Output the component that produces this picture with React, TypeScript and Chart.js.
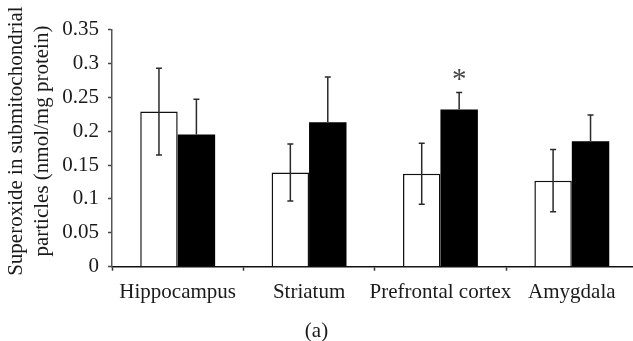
import { useEffect, useRef } from 'react';
import { Chart, registerables } from 'chart.js';

Chart.register(...registerables);

const categories = ['Hippocampus', 'Striatum', 'Prefrontal cortex', 'Amygdala'];
const controlValues = [0.229, 0.139, 0.137, 0.127];
const controlErrors = [0.064, 0.042, 0.045, 0.046];
const treatedValues = [0.195, 0.213, 0.232, 0.185];
const treatedErrors = [0.052, 0.067, 0.025, 0.039];
const treatedSignificant = [false, false, true, false];
const yTitleLines = ['Superoxide in submitochondrial', 'particles (nmol/mg protein)'];
const caption = '(a)';

const FONT = "'Liberation Serif', 'Times New Roman', serif";
const TEXT = '#1a1a1a';

const errorBarPlugin = {
  id: 'errorBars',
  afterDatasetsDraw(chart: any) {
    const ctx = chart.ctx;
    const y = chart.scales.y;
    const sets = [
      { values: controlValues, errors: controlErrors, full: true },
      { values: treatedValues, errors: treatedErrors, full: false },
    ];
    ctx.save();
    ctx.strokeStyle = '#2a2a2a';
    ctx.lineWidth = 1.5;
    sets.forEach((s, di) => {
      const meta = chart.getDatasetMeta(di);
      meta.data.forEach((el: any, i: number) => {
        const x = el.x;
        const top = y.getPixelForValue(s.values[i] + s.errors[i]);
        const bottom = s.full ? y.getPixelForValue(s.values[i] - s.errors[i]) : y.getPixelForValue(s.values[i]);
        ctx.beginPath();
        ctx.moveTo(x, top);
        ctx.lineTo(x, bottom);
        ctx.moveTo(x - 3, top);
        ctx.lineTo(x + 3, top);
        if (s.full) {
          ctx.moveTo(x - 3, bottom);
          ctx.lineTo(x + 3, bottom);
        }
        ctx.stroke();
        if (di === 1 && treatedSignificant[i]) {
          ctx.fillStyle = '#444';
          ctx.font = `29px ${FONT}`;
          ctx.textAlign = 'center';
          ctx.textBaseline = 'alphabetic';
          ctx.fillText('*', x, top - 5);
        }
      });
    });
    ctx.restore();
  },
  afterDraw(chart: any) {
    const ctx = chart.ctx;
    const area = chart.chartArea;
    ctx.save();
    ctx.fillStyle = TEXT;
    ctx.font = `21px ${FONT}`;
    ctx.textAlign = 'center';
    ctx.textBaseline = 'alphabetic';
    // y-axis title
    ctx.save();
    ctx.translate(0, area.top + (area.bottom - area.top) / 2 - 7);
    ctx.rotate(-Math.PI / 2);
    ctx.fillText(yTitleLines[0], 0, 22);
    ctx.fillText(yTitleLines[1], 0, 48);
    ctx.restore();
    // caption
    ctx.fillText(caption, 316.5, 337);
    ctx.restore();
  },
};

export default function App() {
  const ref = useRef<HTMLCanvasElement>(null);
  useEffect(() => {
    const chart = new Chart(ref.current!, {
      type: 'bar',
      data: {
        labels: categories,
        datasets: [
          {
            data: controlValues,
            backgroundColor: '#ffffff',
            borderColor: '#111111',
            borderWidth: 1.5,
            categoryPercentage: 0.57,
            barPercentage: 1,
          },
          {
            data: treatedValues,
            backgroundColor: '#000000',
            borderColor: '#000000',
            borderWidth: 0,
            categoryPercentage: 0.57,
            barPercentage: 1,
          },
        ],
      },
      options: {
        animation: false,
        responsive: false,
        devicePixelRatio: 1,
        layout: { padding: { top: 29.5, right: 7.5, left: 0, bottom: 0 } },
        plugins: { legend: { display: false }, tooltip: { enabled: false } },
        scales: {
          x: {
            afterFit: (s: any) => { s.height = 74.3; },
            grid: { drawOnChartArea: false, drawTicks: true, tickLength: 4, color: '#333', tickWidth: 1.5 },
            border: { display: true, color: '#111', width: 1.5 },
            ticks: {
              color: TEXT,
              font: { family: FONT, size: 21 },
              padding: 9,
              maxRotation: 0,
              minRotation: 0,
              autoSkip: false,
            },
          },
          y: {
            min: 0,
            max: 0.35,
            afterFit: (s: any) => { s.width = 112; },
            grid: { drawOnChartArea: false, drawTicks: true, tickLength: 4, color: '#444', tickWidth: 1.5 },
            border: { display: true, color: '#555', width: 1.5 },
            ticks: {
              stepSize: 0.05,
              color: TEXT,
              font: { family: FONT, size: 21 },
              padding: 9,
              callback: (v: any) => String(Number(Number(v).toFixed(2))),
            },
          },
        },
      },
      plugins: [errorBarPlugin],
    });
    return () => chart.destroy();
  }, []);
  return (
    <div style={{ position: 'fixed', left: 0, top: 0, width: 633, height: 341, overflow: 'hidden', background: '#fff' }}>
      <canvas ref={ref} width={645} height={341} style={{ display: 'block', width: 645, height: 341 }} />
    </div>
  );
}
